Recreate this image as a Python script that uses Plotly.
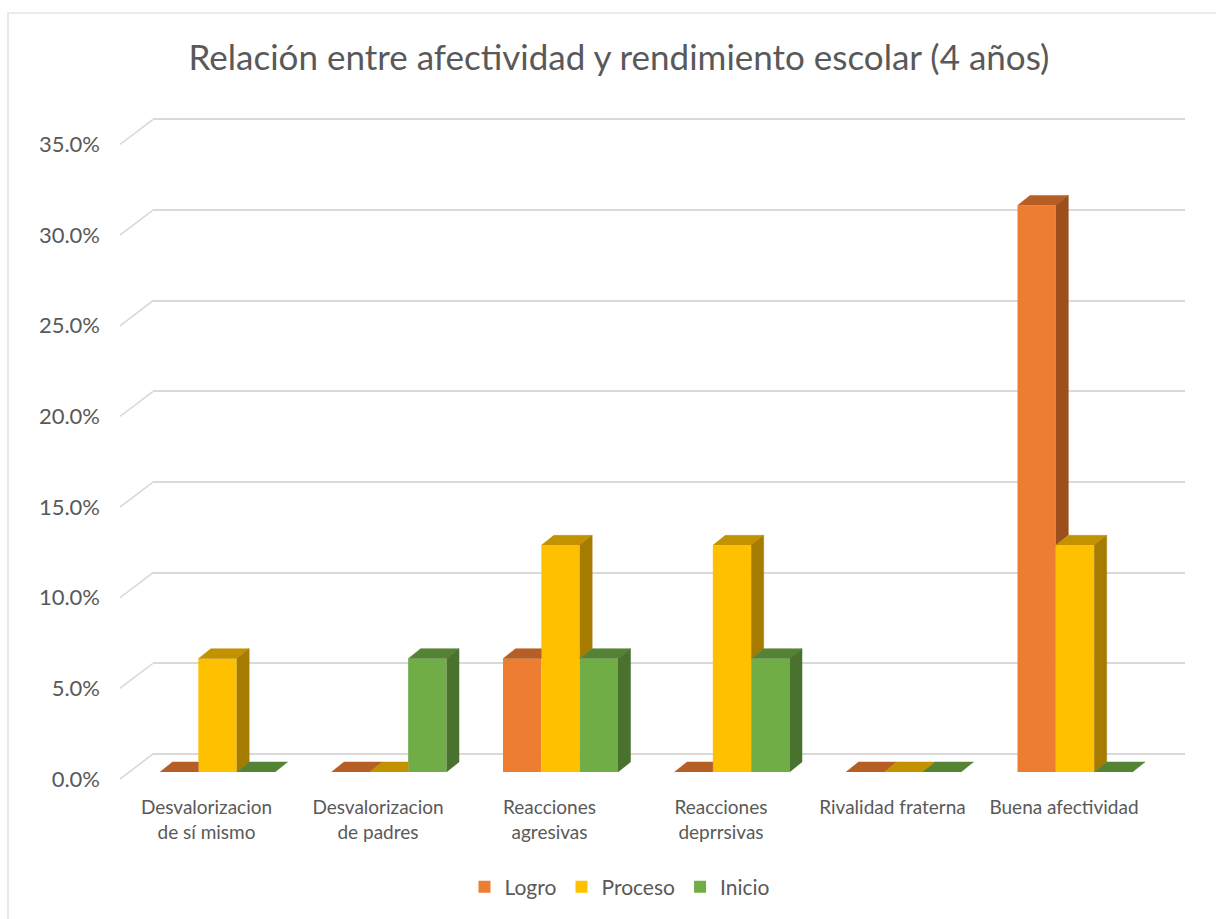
import plotly.graph_objects as go

# ---------------- data ----------------
categories = ["Desvalorizacion<br>de sí mismo", "Desvalorizacion<br>de padres",
              "Reacciones<br>agresivas", "Reacciones<br>deprrsivas",
              "Rivalidad fraterna", "Buena afectividad"]
series_names = ["Logro", "Proceso", "Inicio"]
logro = [0.0, 0.0, 6.25, 0.0, 0.0, 31.25]
proceso = [6.25, 0.0, 12.5, 12.5, 0.0, 12.5]
inicio = [0.0, 6.25, 6.25, 6.25, 0.0, 0.0]
y_ticks = [0, 5, 10, 15, 20, 25, 30, 35]
y_tick_labels = ["0.0%", "5.0%", "10.0%", "15.0%", "20.0%", "25.0%", "30.0%", "35.0%"]
title_text = "Relación entre afectividad y rendimiento escolar (4 años)"

# ---------------- style ----------------
front_colors = ["#ED7D31", "#FFC000", "#70AD47"]
top_colors = ["#B65F24", "#C29200", "#558336"]
side_colors = ["#9C4F1C", "#A67C00", "#4A722F"]
grid_color = "#D9D9D9"
text_color = "#595959"
FONT = "Lato"

W, H = 1216, 919
S = 18.13            # px per percent
CAT_PX = 171.5       # px per category
C0_PX = 217.5        # px of first category centre (front)
FRONT_X0, BACK_X0, RIGHT_X = 120, 153, 1185
BAR_ZERO, FRONT_ZERO, BACK_ZERO = 772, 779, 754
YLO, YHI = -1.0, 38.0
BAR_W = 38.33 / CAT_PX
DX = 12.5 / CAT_PX
DY = 10.0 / S


def ydom(zero_px):
    bottom = zero_px - YLO * S
    top = zero_px - YHI * S
    return [1 - bottom / H, 1 - top / H]


series = [logro, proceso, inicio]
xs = list(range(len(categories)))
fig = go.Figure()

# back wall subplot (holds the gridlines); empty trace so the subplot is drawn
fig.add_trace(go.Scatter(x=[None], y=[None], mode="lines", xaxis="x", yaxis="y",
                         showlegend=False, hoverinfo="skip"))

# front faces (bars)
for s, (name, vals) in enumerate(zip(series_names, series)):
    fig.add_trace(go.Bar(
        x=xs, y=vals, name=name, width=BAR_W,
        offset=-1.5 * BAR_W + s * BAR_W,
        marker=dict(color=front_colors[s], line=dict(width=0)),
        xaxis="x2", yaxis="y2", showlegend=True,
    ))

# 3D top and side faces computed from the same values
for s, vals in enumerate(series):
    nxt = series[s + 1] if s + 1 < len(series) else None
    tx, ty, sx, sy = [], [], [], []
    for i, v in enumerate(vals):
        xl = i - 1.5 * BAR_W + s * BAR_W
        xr = xl + BAR_W
        vn = nxt[i] if nxt is not None else 0.0
        # top face
        if nxt is not None and vn > v:
            tx += [xl, xl + DX, xr, xr, None]
            ty += [v, v + DY, v + DY, v, None]
        else:
            tx += [xl, xl + DX, xr + DX, xr, None]
            ty += [v, v + DY, v + DY, v, None]
        # side face (visible part above the next bar)
        if v > vn:
            sx += [xr, xr + DX, xr + DX, xr, None]
            sy += [vn, vn + DY, v + DY, v, None]
    fig.add_trace(go.Scatter(x=tx, y=ty, fill="toself", mode="lines",
                             line=dict(width=0.5, color=top_colors[s]),
                             fillcolor=top_colors[s], xaxis="x2", yaxis="y2",
                             showlegend=False, hoverinfo="skip"))
    if sx:
        fig.add_trace(go.Scatter(x=sx, y=sy, fill="toself", mode="lines",
                                 line=dict(width=0.5, color=side_colors[s]),
                                 fillcolor=side_colors[s], xaxis="x2", yaxis="y2",
                                 showlegend=False, hoverinfo="skip"))

# diagonal connectors from the front tick positions to the back wall grid
shift = (FRONT_ZERO - BACK_ZERO) / S
cx, cy = [], []
for t in y_ticks:
    cx += [0, 1, None]
    cy += [t, t + shift, None]
fig.add_trace(go.Scatter(x=cx, y=cy, mode="lines",
                         line=dict(color=grid_color, width=1.6),
                         xaxis="x3", yaxis="y3", showlegend=False, hoverinfo="skip"))

hidden = dict(showgrid=False, zeroline=False, showticklabels=False, showline=False, ticks="")

fig.update_layout(
    width=W, height=H,
    margin=dict(l=0, r=0, t=0, b=0),
    paper_bgcolor="white", plot_bgcolor="rgba(0,0,0,0)",
    font=dict(family=FONT, color=text_color),
    title=dict(text=title_text, x=619 / W, xanchor="center", y=1 - 58 / H, yanchor="middle",
               font=dict(size=35, color=text_color, family=FONT)),
    # back wall (gridlines)
    xaxis=dict(domain=[BACK_X0 / W, RIGHT_X / W], range=[0, 1], anchor="y", **hidden),
    yaxis=dict(domain=ydom(BACK_ZERO), range=[YLO, YHI], anchor="x",
               showgrid=True, gridcolor=grid_color, gridwidth=1.6, tickvals=y_ticks,
               zeroline=False, showticklabels=False, showline=False, ticks=""),
    # bars
    xaxis2=dict(domain=[FRONT_X0 / W, RIGHT_X / W],
                range=[(FRONT_X0 - C0_PX) / CAT_PX, (RIGHT_X - C0_PX) / CAT_PX],
                anchor="y2", tickvals=xs, ticktext=categories, showgrid=False,
                zeroline=False, showline=False, ticks="", ticklabelshift=-11,
                ticklabelstandoff=4, tickfont=dict(size=19, color=text_color, family=FONT)),
    yaxis2=dict(domain=ydom(BAR_ZERO), range=[YLO, YHI], anchor="x2", **hidden),
    # front tick labels + connectors
    xaxis3=dict(domain=[FRONT_X0 / W, BACK_X0 / W], range=[0, 1], anchor="y3", **hidden),
    yaxis3=dict(domain=ydom(FRONT_ZERO), range=[YLO, YHI], anchor="x3",
                tickvals=y_ticks, ticktext=y_tick_labels, showgrid=False, zeroline=False,
                showline=False, ticks="", ticklabelstandoff=19,
                tickfont=dict(size=22, color=text_color, family=FONT)),
    barmode="overlay",
    legend=dict(orientation="h", x=620 / W, xanchor="center", y=1 - 887 / H, yanchor="middle",
                font=dict(size=21, color=text_color, family=FONT), itemwidth=30,
                traceorder="normal"),
    shapes=[dict(type="rect", xref="paper", yref="paper", x0=8 / W, x1=1.02,
                 y0=-0.02, y1=1 - 13 / H, line=dict(color=grid_color, width=1.2),
                 fillcolor="rgba(0,0,0,0)", layer="below")],
    showlegend=True,
)

fig.write_html("out.html", config={"displayModeBar": False},
               post_script="document.body.style.margin='0';")
